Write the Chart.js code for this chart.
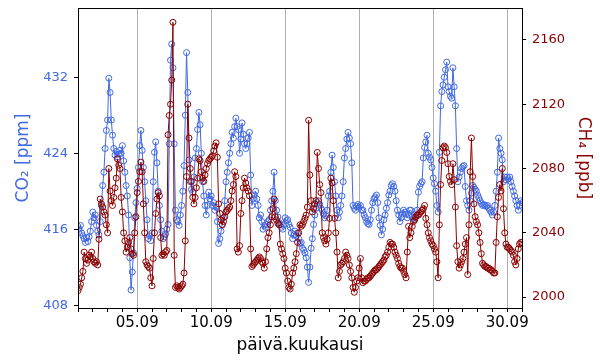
<!DOCTYPE html>
<html><head><meta charset="utf-8">
<script src="https://cdn.jsdelivr.net/npm/chart.js@4.4.0/dist/chart.umd.min.js"></script>
<style>html,body{margin:0;padding:0;background:#fff}#wrap{width:600px;height:360px}</style>
</head><body><div id="wrap"><canvas id="c" width="600" height="360"></canvas></div>
<script>
// 2-hourly samples starting 01.09 00:00
const stepHours = 2;
const co2 = [
416.3,416.0,416.4,415.6,415.3,415.0,414.6,415.1,414.7,415.2,415.8,416.8,
417.8,417.2,417.5,416.4,415.8,415.4,416.8,418.5,420.6,422.0,424.5,426.4,
427.5,431.9,430.4,427.5,425.9,424.5,423.8,424.2,423.6,423.9,424.3,424.0,
424.8,423.2,422.0,420.6,419.5,417.5,413.0,409.6,411.5,413.5,417.2,418.8,
420.3,422.5,424.8,426.4,424.3,422.5,421.0,419.0,417.0,415.0,415.3,414.8,
415.6,421.0,424.1,425.2,423.0,420.0,418.5,417.0,415.8,415.0,415.2,415.5,
416.0,416.5,425.0,433.8,435.5,433.0,425.0,418.0,417.0,416.8,416.4,417.5,
418.5,420.0,422.7,428.0,434.6,430.4,423.3,421.0,420.2,419.9,421.5,423.5,
424.5,426.5,428.3,427.0,424.0,421.0,419.5,418.5,417.5,418.5,419.9,419.2,
419.5,418.5,418.8,418.0,418.3,416.8,414.5,415.0,415.8,416.5,417.2,419.0,
421.0,422.0,423.0,424.0,425.0,426.2,425.6,426.8,427.7,426.8,426.5,424.0,
425.5,427.2,426.0,425.0,424.5,425.0,425.6,426.2,421.7,418.5,419.2,419.6,
420.0,419.2,418.5,417.2,417.5,416.8,416.0,416.4,416.2,416.5,416.8,417.0,
418.0,419.0,420.0,422.0,419.0,418.0,417.3,416.7,416.5,416.2,416.0,416.5,
417.2,416.9,417.0,416.5,416.2,415.6,415.0,415.4,415.8,415.3,415.6,415.0,
414.5,414.6,414.0,413.8,413.5,413.0,412.0,410.4,412.0,414.0,415.0,416.5,
417.5,418.2,418.8,419.0,418.6,418.2,418.0,417.6,417.2,417.4,418.0,419.5,
420.0,422.0,423.8,422.5,421.0,419.5,418.0,417.2,417.8,418.5,419.5,421.0,
423.5,424.5,425.5,426.2,425.6,425.0,423.0,418.5,418.2,418.0,418.4,418.6,
418.3,418.5,418.0,418.0,417.5,417.2,416.8,416.6,416.5,417.0,418.0,418.8,
419.2,419.4,419.6,418.8,417.2,416.4,415.4,416.0,417.0,417.5,418.2,418.8,
419.6,420.0,420.6,420.8,420.5,420.0,419.0,418.0,417.5,416.8,417.2,417.6,
418.0,417.8,417.6,417.2,417.5,418.0,418.0,417.3,417.0,417.2,417.6,418.0,
419.9,420.5,420.8,421.0,423.5,424.6,425.2,425.9,424.0,423.6,423.3,422.5,
421.4,420.8,420.0,418.5,417.8,424.1,429.0,430.5,431.2,432.0,432.8,433.6,
431.0,430.5,430.0,429.8,433.0,431.0,429.0,424.5,421.0,421.5,422.0,422.4,
422.6,422.7,420.5,419.0,418.5,418.0,419.0,419.8,420.6,420.4,420.2,420.0,
419.6,419.3,419.0,418.7,418.5,418.6,418.5,418.4,418.5,418.2,418.0,417.8,
417.5,417.8,418.5,420.0,422.0,425.6,424.5,424.0,423.3,421.0,421.5,421.2,
421.5,421.3,421.5,421.0,420.5,420.0,419.5,419.0,418.5,418.0,418.5,419.0,
418.8
];
const ch4 = [
2004,2006,2008,2012,2016,2028,2024,2021,2023,2026,2025,2028,
2024,2022,2021,2022,2020,2036,2061,2058,2056,2053,2051,2045,
2040,2080,2066,2060,2057,2062,2068,2074,2086,2082,2080,2062,
2053,2040,2035,2028,2031,2034,2037,2030,2027,2026,2040,2050,
2065,2072,2078,2084,2078,2058,2040,2022,2020,2019,2018,2012,
2007,2024,2040,2052,2061,2065,2063,2037,2026,2027,2026,2028,
2029,2101,2113,2120,2135,2171,2026,2006,2007,2006,2005,2006,
2007,2008,2015,2035,2075,2120,2099,2080,2072,2062,2058,2062,
2068,2074,2086,2085,2078,2074,2072,2076,2080,2083,2085,2086,
2087,2088,2091,2094,2096,2087,2058,2052,2048,2045,2047,2050,
2053,2054,2055,2056,2060,2066,2070,2078,2075,2030,2028,2032,
2052,2060,2068,2074,2071,2068,2066,2063,2030,2019,2020,2021,
2022,2023,2024,2025,2024,2022,2021,2018,2022,2030,2037,2040,
2045,2050,2055,2061,2050,2048,2046,2045,2033,2030,2027,2024,
2018,2015,2010,2006,2005,2008,2015,2018,2022,2027,2034,2040,
2045,2044,2045,2047,2049,2051,2056,2110,2076,2060,2053,2055,
2058,2060,2090,2080,2070,2065,2040,2037,2035,2033,2036,2040,
2049,2074,2071,2060,2049,2040,2028,2012,2016,2020,2021,2022,
2024,2028,2026,2024,2020,2016,2012,2006,2003,2006,2010,2012,
2018,2024,2012,2009,2010,2010,2011,2012,2012,2013,2014,2015,
2016,2017,2017,2018,2019,2020,2021,2022,2023,2025,2026,2028,
2031,2034,2033,2033,2031,2028,2026,2024,2021,2019,2018,2018,
2016,2014,2012,2028,2044,2037,2040,2044,2047,2048,2050,2051,
2051,2052,2053,2054,2055,2057,2049,2045,2040,2037,2035,2033,
2032,2030,2028,2022,2012,2045,2070,2085,2093,2094,2093,2090,
2083,2075,2072,2070,2083,2073,2056,2032,2022,2018,2020,2022,
2024,2028,2033,2037,2014,2045,2078,2099,2075,2058,2050,2047,
2045,2040,2034,2027,2021,2020,2019,2019,2018,2018,2017,2017,
2016,2015,2015,2034,2050,2062,2070,2066,2080,2055,2040,2033,
2031,2031,2030,2029,2028,2026,2022,2020,2024,2030,2033,2034,
2034
];
const xTickDays = [4, 9, 14, 19, 24, 29];
const xTickLabels = ['05.09', '10.09', '15.09', '20.09', '25.09', '30.09'];
const co2Ticks = [408, 416, 424, 432];
const ch4Ticks = [2000, 2040, 2080, 2120, 2160];

const toXY = arr => arr.map((v, i) => ({ x: i * stepHours / 24, y: v }));
const BLUE = '#4169E1', RED = '#8B0000';

const framePlugin = {
  id: 'frame',
  afterDraw(chart) {
    const { ctx, chartArea: a } = chart;
    ctx.save();
    ctx.strokeStyle = '#000';
    ctx.lineWidth = 1;
    ctx.strokeRect(Math.round(a.left) + 0.5, Math.round(a.top) + 0.5, Math.round(a.right - a.left), Math.round(a.bottom - a.top));
    ctx.restore();
  }
};

const fitY = s => { s.width = 78; s.paddingTop = 0; s.paddingBottom = 0; };

new Chart(document.getElementById('c'), {
  type: 'line',
  data: {
    datasets: [
      { label: 'CH4', data: toXY(ch4), yAxisID: 'y2', order: 0,
        borderColor: RED, borderWidth: 1, pointRadius: 3, pointBorderWidth: 1,
        pointBackgroundColor: 'rgba(0,0,0,0)', pointBorderColor: RED, tension: 0 },
      { label: 'CO2', data: toXY(co2), yAxisID: 'y', order: 1,
        borderColor: BLUE, borderWidth: 1, pointRadius: 3, pointBorderWidth: 1,
        pointBackgroundColor: 'rgba(0,0,0,0)', pointBorderColor: BLUE, tension: 0 }
    ]
  },
  options: {
    responsive: false, animation: false, devicePixelRatio: 1,
    layout: { padding: { top: 8, left: 0, right: 0, bottom: 0 } },
    plugins: { legend: { display: false }, tooltip: { enabled: false } },
    scales: {
      x: {
        type: 'linear', min: 0, max: 30,
        ticks: {
          stepSize: 1, autoSkip: false, maxRotation: 0, minRotation: 0,
          color: '#000', font: { family: 'DejaVu Sans', size: 15 }, padding: 2,
          callback: v => { const i = xTickDays.indexOf(v); return i >= 0 ? xTickLabels[i] : ''; }
        },
        grid: {
          color: c => (c.tick && xTickDays.includes(c.tick.value)) ? '#b0b0b0' : 'rgba(0,0,0,0)',
          tickColor: '#000', tickLength: 4, lineWidth: 1
        },
        border: { display: true, color: '#000' },
        title: { display: true, text: 'päivä.kuukausi', color: '#000',
          font: { family: 'DejaVu Sans', size: 17 }, padding: { top: 4, bottom: 4 } },
        afterFit: s => { s.height = 52; s.paddingLeft = 0; s.paddingRight = 0; }
      },
      y: {
        type: 'linear', position: 'left', min: 407.7, max: 439.3,
        afterBuildTicks: s => { s.ticks = co2Ticks.map(v => ({ value: v })); },
        ticks: { color: BLUE, font: { family: 'DejaVu Sans', size: 13 }, padding: 6,
          callback: v => String(v) },
        grid: { drawOnChartArea: false, tickColor: '#000', tickLength: 4 },
        border: { display: true, color: '#000' },
        title: { display: true, text: 'CO₂ [ppm]', color: BLUE,
          font: { family: 'DejaVu Sans', size: 17 }, padding: { top: 13, bottom: 0 } },
        afterFit: fitY
      },
      y2: {
        type: 'linear', position: 'right', min: 1993.2, max: 2179.9,
        afterBuildTicks: s => { s.ticks = ch4Ticks.map(v => ({ value: v })); },
        ticks: { color: RED, font: { family: 'DejaVu Sans', size: 13 }, padding: 6,
          callback: v => String(v) },
        grid: { drawOnChartArea: false, tickColor: '#000', tickLength: 4 },
        border: { display: true, color: '#000' },
        title: { display: true, text: 'CH₄ [ppb]', color: RED,
          font: { family: 'DejaVu Sans', size: 17 }, padding: { top: 6, bottom: 0 } },
        afterFit: fitY
      }
    }
  },
  plugins: [framePlugin]
});
</script>
</body></html>
